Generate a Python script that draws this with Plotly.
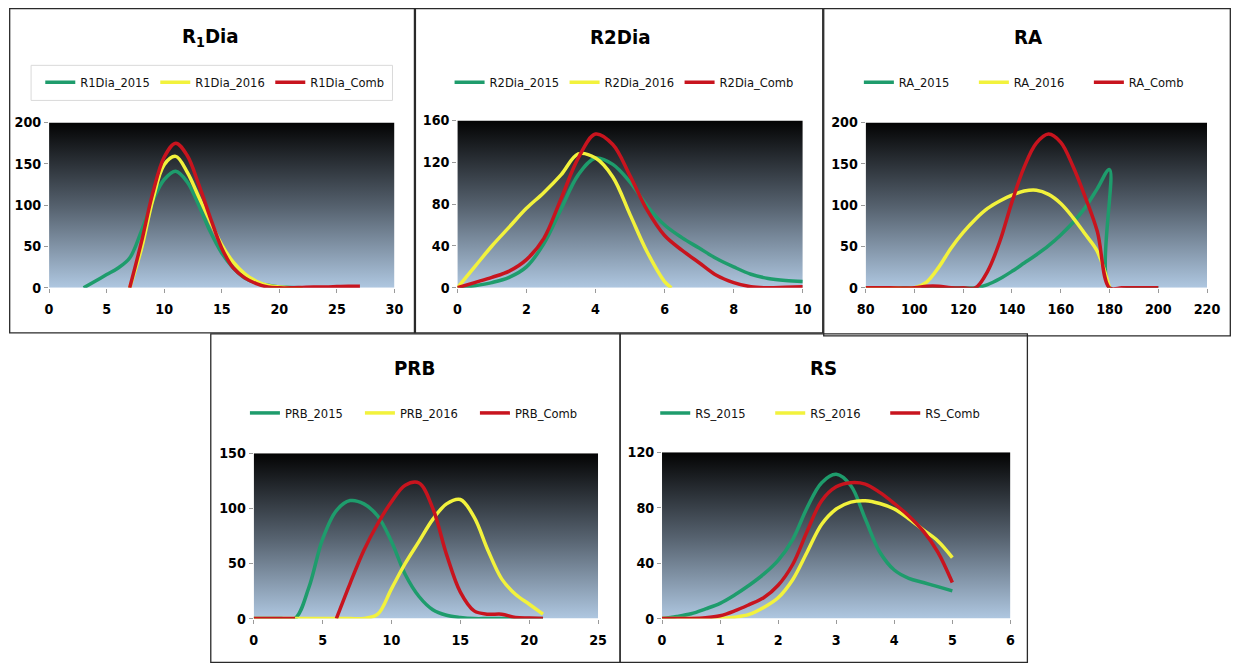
import plotly.graph_objects as go

# ---------------- data ----------------
# R1Dia
r1dia_x_2015 = [3, 4, 5, 6, 7, 8, 9, 10, 11, 12, 13, 14, 15, 16, 17, 18, 19, 20, 21, 22]
r1dia_2015 = [0, 8, 16, 24, 36, 68, 105, 131, 141, 128, 100, 68, 42, 24, 12, 6, 3, 1, 0.5, 0]
r1dia_x_2016 = [7, 8, 9, 10, 11, 12, 13, 14, 15, 16, 17, 18, 19, 20, 21, 22]
r1dia_2016 = [0, 46, 106, 149, 159, 140, 110, 80, 52, 31, 17, 8, 3, 1, 0, 0]
r1dia_x_comb = [7, 8, 9, 10, 11, 12, 13, 14, 15, 16, 17, 18, 19, 20, 21, 22, 23, 24, 25, 26, 27]
r1dia_comb = [0, 54, 114, 158, 175, 160, 125, 85, 48, 24, 12, 5, 1, 0, 0, 0.5, 1, 1, 1.5, 2, 2]

# R2Dia
r2dia_x = [0, 0.5, 1, 1.5, 2, 2.5, 3, 3.5, 4, 4.5, 5, 5.5, 6, 6.5, 7, 7.5, 8, 8.5, 9, 9.5, 10]
r2dia_2015 = [0, 2, 5, 10, 20, 42, 75, 108, 124, 118, 101, 78, 60, 48, 38, 28, 20, 13, 9, 7, 6]
r2dia_x_2016 = [0, 0.5, 1, 1.5, 2, 2.5, 3, 3.5, 4, 4.5, 5, 5.5, 6, 6.2]
r2dia_2016 = [0, 20, 40, 58, 76, 91, 108, 128, 124, 106, 70, 34, 6, 0]
r2dia_comb = [0, 5, 10, 16, 27, 47, 85, 124, 147, 137, 107, 74, 50, 36, 24, 12, 5, 1, 0, 0.5, 1]

# RA
ra_x_2015 = [80, 90, 100, 110, 120, 125, 130, 135, 140, 145, 150, 155, 160, 165, 170, 175, 180, 180, 190, 200]
ra_2015 = [0, 0, 0, 0, 0, 0, 4, 11, 20, 30, 40, 51, 64, 79, 97, 120, 143, 0, 0, 0]
ra_x_2016 = [80, 90, 100, 105, 110, 115, 120, 125, 130, 135, 140, 145, 150, 155, 160, 165, 170, 175, 180]
ra_2016 = [0, 0, 0, 7, 25, 48, 67, 83, 96, 105, 112, 117, 118, 113, 102, 85, 65, 44, 0]
ra_x_comb = [80, 90, 100, 105, 110, 115, 120, 125, 130, 135, 140, 145, 150, 155, 160, 165, 170,
             175, 180, 185, 190, 195, 200]
ra_comb = [0, 0, 0, 2, 2, 0, 0, 0, 20, 56, 104, 146, 175, 186, 176, 147, 110, 68, 0, 0, 0, 0, 0]

# PRB
prb_x = [0, 1, 2, 3, 4, 5, 6, 7, 8, 9, 10, 11, 12, 13, 14, 15, 16, 17, 18, 19, 20, 21]
prb_2015 = [0, 0, 0, 0, 28, 72, 98, 107, 104, 93, 70, 40, 20, 8, 3, 1, 0, 0, 0, 0, 0, 0]
prb_2016 = [0, 0, 0, 0, 0, 0, 0, 0, 0, 4, 27, 50, 70, 90, 104, 108, 92, 62, 36, 22, 13, 4]
prb_comb = [0, 0, 0, 0, None, None, 0, 32, 62, 86, 106, 121, 123, 100, 58, 24, 7, 4, 4, 1, 0.5, 0]

# RS
rs_x = [0, 0.25, 0.5, 0.75, 1, 1.25, 1.5, 1.75, 2, 2.25, 2.5, 2.75, 3, 3.25, 3.5, 3.75, 4, 4.25,
        4.5, 4.75, 5]
rs_2015 = [0, 1.5, 3.5, 7, 11, 17, 24, 32, 42, 57, 80, 98, 104, 96, 72, 48, 35, 29, 26, 23, 20]
rs_2016 = [0, 0, 0, 0, 0, 1, 3, 8, 15, 28, 48, 68, 79, 84, 85, 83, 79, 72, 64, 56, 44]
rs_comb = [0, 0, 0, 0.5, 2, 5.5, 10, 15, 24, 39, 63, 85, 95, 98, 97, 91, 83, 74, 63, 48, 26]

# ---------------- page geometry ----------------
# The plot div sits inside the default 8px <body> margin and the page is
# viewed slightly reduced; layout positions below are given in final page
# pixels and converted to paper coordinates.
OFF = 8
SX, SY = 0.984, 0.974
W, H = 1244, 671
FONT = "DejaVu Sans Condensed, Liberation Sans Narrow, Arial Narrow, sans-serif"
GREEN, YELLOW, RED = "#1e9c6c", "#f2f23c", "#c8141e"
LINE_W = 3.5
# plot-area fill: light steel blue at the bottom fading to black at the top
BG_SCALE = [[0, "#b3cce6"], [0.5, "#56626f"], [1, "#030303"]]


def fx(px, clamp=False):
    """page pixel -> paper x"""
    v = (px / SX - OFF) / W
    return min(max(v, 0.7 / W), 1 - 0.7 / W) if clamp else v


def fy(py, clamp=False):
    """page pixel -> paper y"""
    v = 1 - (py / SY - OFF) / H
    return min(max(v, 0.7 / H), 1 - 0.7 / H) if clamp else v


def fs(size):
    """font size compensated for the page reduction"""
    return round(size / SX, 1)


panels = [
    dict(title="R<sub>1</sub>Dia", prefix="R1Dia",
         series=[(r1dia_x_2015, r1dia_2015), (r1dia_x_2016, r1dia_2016), (r1dia_x_comb, r1dia_comb)],
         xr=[0, 30], xd=5, yr=[0, 200], yd=50,
         box=(5, 1, 414, 332), plot=(48, 122, 394, 287), tx=210, ty=37, lx=212, ly=82),
    dict(title="R2Dia", prefix="R2Dia",
         series=[(r2dia_x, r2dia_2015), (r2dia_x_2016, r2dia_2016), (r2dia_x, r2dia_comb)],
         xr=[0, 10], xd=2, yr=[0, 160], yd=40,
         box=(415, 2, 823, 332), plot=(457, 120, 803, 287), tx=620, ty=37, lx=622, ly=82),
    dict(title="RA", prefix="RA",
         series=[(ra_x_2015, ra_2015), (ra_x_2016, ra_2016), (ra_x_comb, ra_comb)],
         xr=[80, 220], xd=20, yr=[0, 200], yd=50,
         box=(824, 3, 1232, 335), plot=(866, 122, 1208, 287), tx=1029, ty=37, lx=1032, ly=82),
    dict(title="PRB", prefix="PRB",
         series=[(prb_x, prb_2015), (prb_x, prb_2016), (prb_x, prb_comb)],
         xr=[0, 25], xd=5, yr=[0, 150], yd=50,
         box=(210, 333, 620, 662), plot=(253, 452, 598, 617), tx=414, ty=367, lx=417, ly=412),
    dict(title="RS", prefix="RS",
         series=[(rs_x, rs_2015), (rs_x, rs_2016), (rs_x, rs_comb)],
         xr=[0, 6], xd=1, yr=[0, 120], yd=40,
         box=(620, 333, 1028, 662), plot=(662, 451, 1011, 617), tx=824, ty=367, lx=828, ly=412),
]

fig = go.Figure()
layout = dict(
    width=W, height=H, margin=dict(l=0, r=0, t=0, b=0),
    paper_bgcolor="white", plot_bgcolor="rgba(0,0,0,0)",
    showlegend=True, shapes=[], annotations=[],
)

suffixes = ["_2015", "_2016", "_Comb"]
colors = [GREEN, YELLOW, RED]

for i, p in enumerate(panels):
    n = "" if i == 0 else str(i + 1)
    xa, ya = "x" + n, "y" + n
    leg = "legend" + n
    (xa0, xa1), (ya0, ya1) = p["xr"], p["yr"]
    # gradient-filled background spanning the axis ranges
    fig.add_trace(go.Scatter(
        x=[xa0, xa1, xa1, xa0, xa0], y=[ya0, ya0, ya1, ya1, ya0],
        mode="lines", fill="toself", line=dict(width=0),
        fillgradient=dict(type="vertical", colorscale=BG_SCALE, start=ya0, stop=ya1),
        hoverinfo="skip", showlegend=False, xaxis=xa, yaxis=ya,
    ))
    for (xs, ys), suf, col in zip(p["series"], suffixes, colors):
        fig.add_trace(go.Scatter(
            x=xs, y=ys, mode="lines", name=p["prefix"] + suf,
            line=dict(color=col, width=LINE_W, shape="spline", smoothing=1),
            xaxis=xa, yaxis=ya, legend=leg, connectgaps=False,
        ))
    x0, y0, x1, y1 = p["plot"]
    tickfont = dict(family=FONT, size=fs(14), color="#000", weight="bold")
    layout["xaxis" + n] = dict(
        domain=[fx(x0), fx(x1)], anchor=ya, range=p["xr"], dtick=p["xd"], tick0=0,
        showgrid=False, zeroline=False, showline=False,
        ticks="outside", ticklen=4, tickcolor="#9a9a9a", tickfont=tickfont,
        ticklabelstandoff=4, fixedrange=True,
    )
    layout["yaxis" + n] = dict(
        domain=[fy(y1), fy(y0)], anchor=xa, range=p["yr"], dtick=p["yd"], tick0=0,
        showgrid=False, zeroline=False, showline=False,
        ticks="outside", ticklen=4, tickcolor="#9a9a9a", tickfont=tickfont,
        fixedrange=True,
    )
    layout[leg] = dict(
        orientation="h", x=fx(p["lx"]), y=fy(p["ly"]), xanchor="center", yanchor="middle",
        xref="paper", yref="paper", bgcolor="rgba(0,0,0,0)",
        font=dict(family=FONT, size=fs(12.6), color="#111"), entrywidth=70, itemwidth=30,
    )
    layout["annotations"].append(dict(
        text=p["title"], x=fx(p["tx"]), y=fy(p["ty"]), xref="paper", yref="paper",
        showarrow=False, xanchor="center", yanchor="middle",
        font=dict(family=FONT, size=fs(20), color="#000", weight="bold"),
    ))
    bx0, by0, bx1, by1 = p["box"]
    layout["shapes"].append(dict(
        type="rect", xref="paper", yref="paper",
        x0=fx(bx0, True), x1=fx(bx1, True), y0=fy(by1, True), y1=fy(by0, True),
        line=dict(color="#2a2a2a", width=1.3), layer="above",
    ))

# framed legend of the first panel
layout["shapes"].append(dict(
    type="rect", xref="paper", yref="paper",
    x0=fx(30), x1=fx(392), y0=fy(100), y1=fy(65),
    line=dict(color="#d9d9d9", width=1),
))

fig.update_layout(**layout)
fig.write_html("out.html")
